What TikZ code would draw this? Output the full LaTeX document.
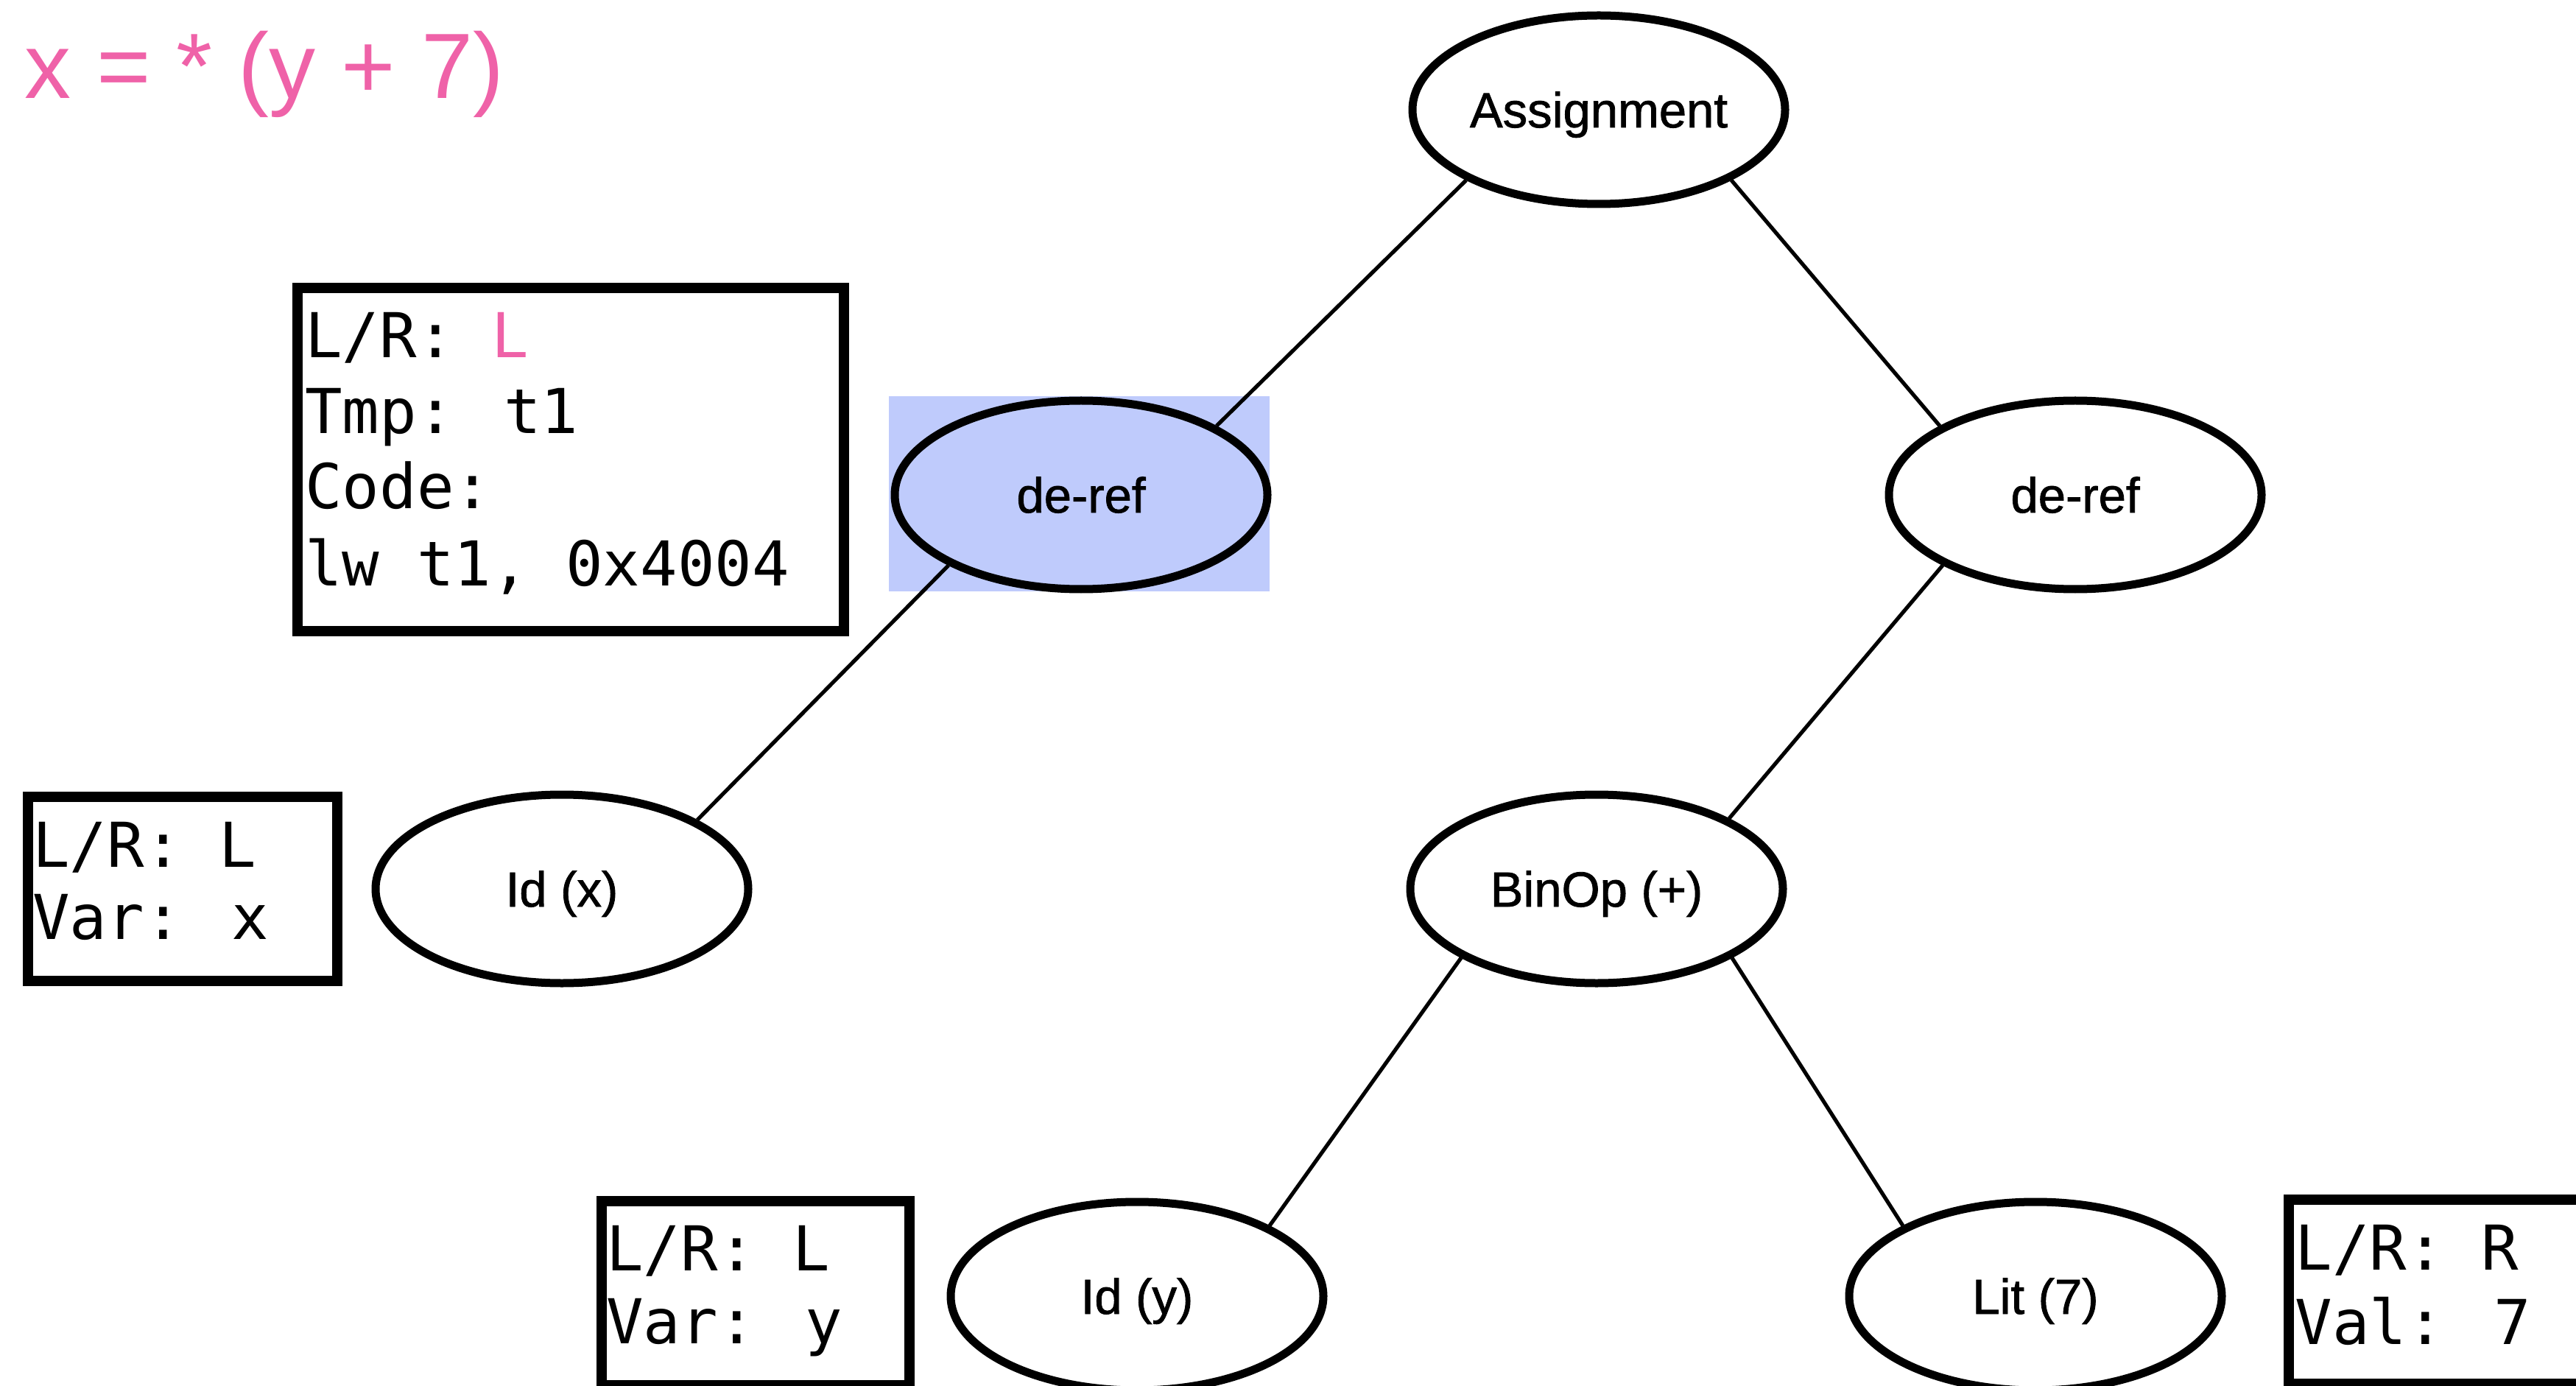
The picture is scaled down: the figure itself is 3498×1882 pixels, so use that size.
\documentclass[tikz,border=0pt]{standalone}
\usepackage{fontspec}
\setmainfont{Liberation Sans}
\newfontfamily\monof{DejaVu Sans Mono}
\newfontfamily\labelf[FakeBold=1.2]{Liberation Sans}
\usetikzlibrary{shapes.geometric}
\definecolor{pinkc}{RGB}{239,98,168}
\definecolor{hlblue}{RGB}{191,203,252}
\begin{document}
\begin{tikzpicture}[x=0.5pt,y=-0.5pt,
  astnode/.style={ellipse, draw, line width=5.5pt, minimum width=253pt, minimum height=128pt,
    inner sep=0pt, font=\labelf\fontsize{33.5}{40}\selectfont, text height=24pt, text depth=0pt},
  edge/.style={line width=2.6pt},
  infobox/.style={draw, line width=7pt, rectangle, inner sep=0pt, outer sep=0pt, anchor=north west},
  monotext/.style={anchor=base west, inner sep=0pt, font=\monof\fontsize{42}{51}\selectfont}]
\useasboundingbox (0,0) rectangle (3498,1882);

% title
\node[anchor=base west, inner sep=0pt, text=pinkc, font=\fontsize{63}{72}\selectfont] (title) at (33,134) {x = * (y + 7)};

% highlight
\fill[hlblue] (1207,538) rectangle (1724,803);

% tree nodes
\node[astnode] (A) at (2171,149) {Assignment};
\node[astnode, fill=hlblue] (L) at (1468,672) {de-ref};
\node[astnode] (R) at (2818,672) {de-ref};
\node[astnode] (X) at (763,1207) {Id (x)};
\node[astnode] (B) at (2168,1207) {BinOp (+)};
\node[astnode] (Y) at (1544,1760) {Id (y)};
\node[astnode] (T) at (2764,1760) {Lit (7)};

% connectors
\draw[edge] (A.208) -- (L.27);
\draw[edge] (A.332) -- (R.153);
\draw[edge] (L.208) -- (X.27);
\draw[edge] (R.208) -- (B.28);
\draw[edge] (B.207) -- (Y.28);
\draw[edge] (B.333) -- (T.152);

% info boxes
\node[infobox, minimum width=371pt, minimum height=233pt] (box1) at (404,391) {};
\node[monotext] (b1a) at (414,486) {L/R: \textcolor{pinkc}{L}};
\node[monotext] (b1b) at (414,589) {Tmp: t1};
\node[monotext] (b1c) at (414,691) {Code:};
\node[monotext] (b1d) at (414,795) {lw t1, 0x4004};

\node[infobox, minimum width=210pt, minimum height=125pt] (box2) at (38,1082) {};
\node[monotext] (b2a) at (44,1177) {L/R: L};
\node[monotext] (b2b) at (44,1275) {Var: x};

\node[infobox, minimum width=209pt, minimum height=125pt] (box3) at (817,1631) {};
\node[monotext] (b3a) at (823,1725) {L/R: L};
\node[monotext] (b3b) at (823,1824) {Var: y};

\node[infobox, minimum width=240pt, minimum height=125pt] (box4) at (3108,1629) {};
\node[monotext] (b4a) at (3116,1724) {L/R: R};
\node[monotext] (b4b) at (3116,1825) {Val: 7};
\end{tikzpicture}
\end{document}
